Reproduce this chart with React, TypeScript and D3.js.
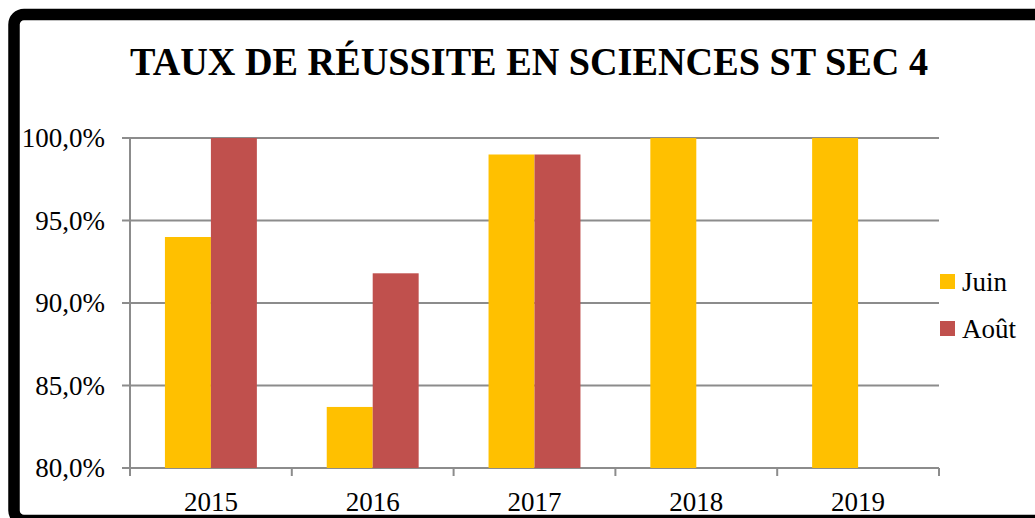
import { useEffect, useRef } from "react";
import * as d3 from "d3";

const years = ["2015", "2016", "2017", "2018", "2019"];
const series = ["Juin", "Août"];
const juin: (number | null)[] = [94.0, 83.7, 99.0, 100.0, 100.0];
const aout: (number | null)[] = [100.0, 91.8, 99.0, null, null];
const yTicks = [80, 85, 90, 95, 100];
const colors = ["#FFC000", "#C0504D"];
const title = "TAUX DE RÉUSSITE EN SCIENCES ST SEC 4";

const W = 1035;
const H = 518;

const App = () => {
  const svgRef = useRef<SVGSVGElement>(null);

  useEffect(() => {
    const svg = d3.select(svgRef.current);
    svg.selectAll("*").remove();

    const font = "'Liberation Serif', 'DejaVu Serif', serif";
    const plot = { left: 130, right: 939, top: 138, bottom: 468 };

    const x = d3.scaleBand().domain(years).range([plot.left, plot.right]).padding(0);
    const xs = d3
      .scaleBand()
      .domain(series)
      .range([0, x.bandwidth()])
      .paddingInner(0)
      .paddingOuter(0.76);
    const y = d3.scaleLinear().domain([80, 100]).range([plot.bottom, plot.top]);

    svg.append("rect").attr("width", W).attr("height", H).attr("fill", "#fff");

    // frame
    svg
      .append("rect")
      .attr("x", 14)
      .attr("y", 14.5)
      .attr("width", 1200)
      .attr("height", 506)
      .attr("rx", 10)
      .attr("fill", "none")
      .attr("stroke", "#000")
      .attr("stroke-width", 11.5);

    svg
      .append("text")
      .attr("x", 529)
      .attr("y", 75)
      .attr("text-anchor", "middle")
      .attr("font-family", font)
      .attr("font-weight", "bold")
      .attr("font-size", 41)
      .attr("textLength", 798)
      .attr("lengthAdjust", "spacingAndGlyphs")
      .attr("fill", "#000")
      .text(title);

    // gridlines + y ticks
    const g = svg.append("g");
    g.selectAll(".grid")
      .data(yTicks)
      .enter()
      .append("line")
      .attr("x1", plot.left - 8)
      .attr("x2", plot.right)
      .attr("y1", (d) => y(d))
      .attr("y2", (d) => y(d))
      .attr("stroke", "#8c8c8c")
      .attr("stroke-width", 2);

    g.selectAll(".ylab")
      .data(yTicks)
      .enter()
      .append("text")
      .attr("x", 105)
      .attr("y", (d) => y(d))
      .attr("dy", "0.35em")
      .attr("text-anchor", "end")
      .attr("font-family", font)
      .attr("font-size", 27)
      .attr("fill", "#000")
      .text((d) => d.toFixed(1).replace(".", ",") + "%");

    // bars
    const rows = years.map((yr, i) => ({ yr, vals: [juin[i], aout[i]] }));
    const grp = svg
      .selectAll(".grp")
      .data(rows)
      .enter()
      .append("g")
      .attr("transform", (d) => `translate(${x(d.yr)},0)`);
    grp
      .selectAll("rect")
      .data((d) => d.vals.map((v, j) => ({ s: series[j], v, j })).filter((e) => e.v !== null))
      .enter()
      .append("rect")
      .attr("x", (d) => xs(d.s)!)
      .attr("width", xs.bandwidth())
      .attr("y", (d) => y(d.v as number))
      .attr("height", (d) => y(80) - y(d.v as number))
      .attr("fill", (d) => colors[d.j]);

    // axes
    svg
      .append("line")
      .attr("x1", plot.left)
      .attr("x2", plot.left)
      .attr("y1", plot.top)
      .attr("y2", plot.bottom + 8)
      .attr("stroke", "#8c8c8c")
      .attr("stroke-width", 2);
    const xb = [...years.map((d) => x(d)!), plot.right];
    svg
      .selectAll(".xt")
      .data(xb)
      .enter()
      .append("line")
      .attr("x1", (d) => d)
      .attr("x2", (d) => d)
      .attr("y1", plot.bottom)
      .attr("y2", plot.bottom + 8)
      .attr("stroke", "#8c8c8c")
      .attr("stroke-width", 2);
    svg
      .selectAll(".xlab")
      .data(years)
      .enter()
      .append("text")
      .attr("x", (d) => x(d)! + x.bandwidth() / 2)
      .attr("y", 511)
      .attr("text-anchor", "middle")
      .attr("font-family", font)
      .attr("font-size", 27)
      .attr("fill", "#000")
      .text((d) => d);

    // legend
    const leg = svg
      .selectAll(".leg")
      .data(series)
      .enter()
      .append("g")
      .attr("transform", (d, i) => `translate(940,${274 + i * 47})`);
    leg
      .append("rect")
      .attr("width", 15)
      .attr("height", 15)
      .attr("fill", (d, i) => colors[i]);
    leg
      .append("text")
      .attr("x", 22)
      .attr("y", 17)
      .attr("font-family", font)
      .attr("font-size", 27)
      .attr("fill", "#000")
      .text((d) => d);
  }, []);

  return (
    <svg
      ref={svgRef}
      width={W}
      height={H}
      style={{ position: "absolute", left: 0, top: 0, display: "block" }}
    />
  );
};

export default App;
